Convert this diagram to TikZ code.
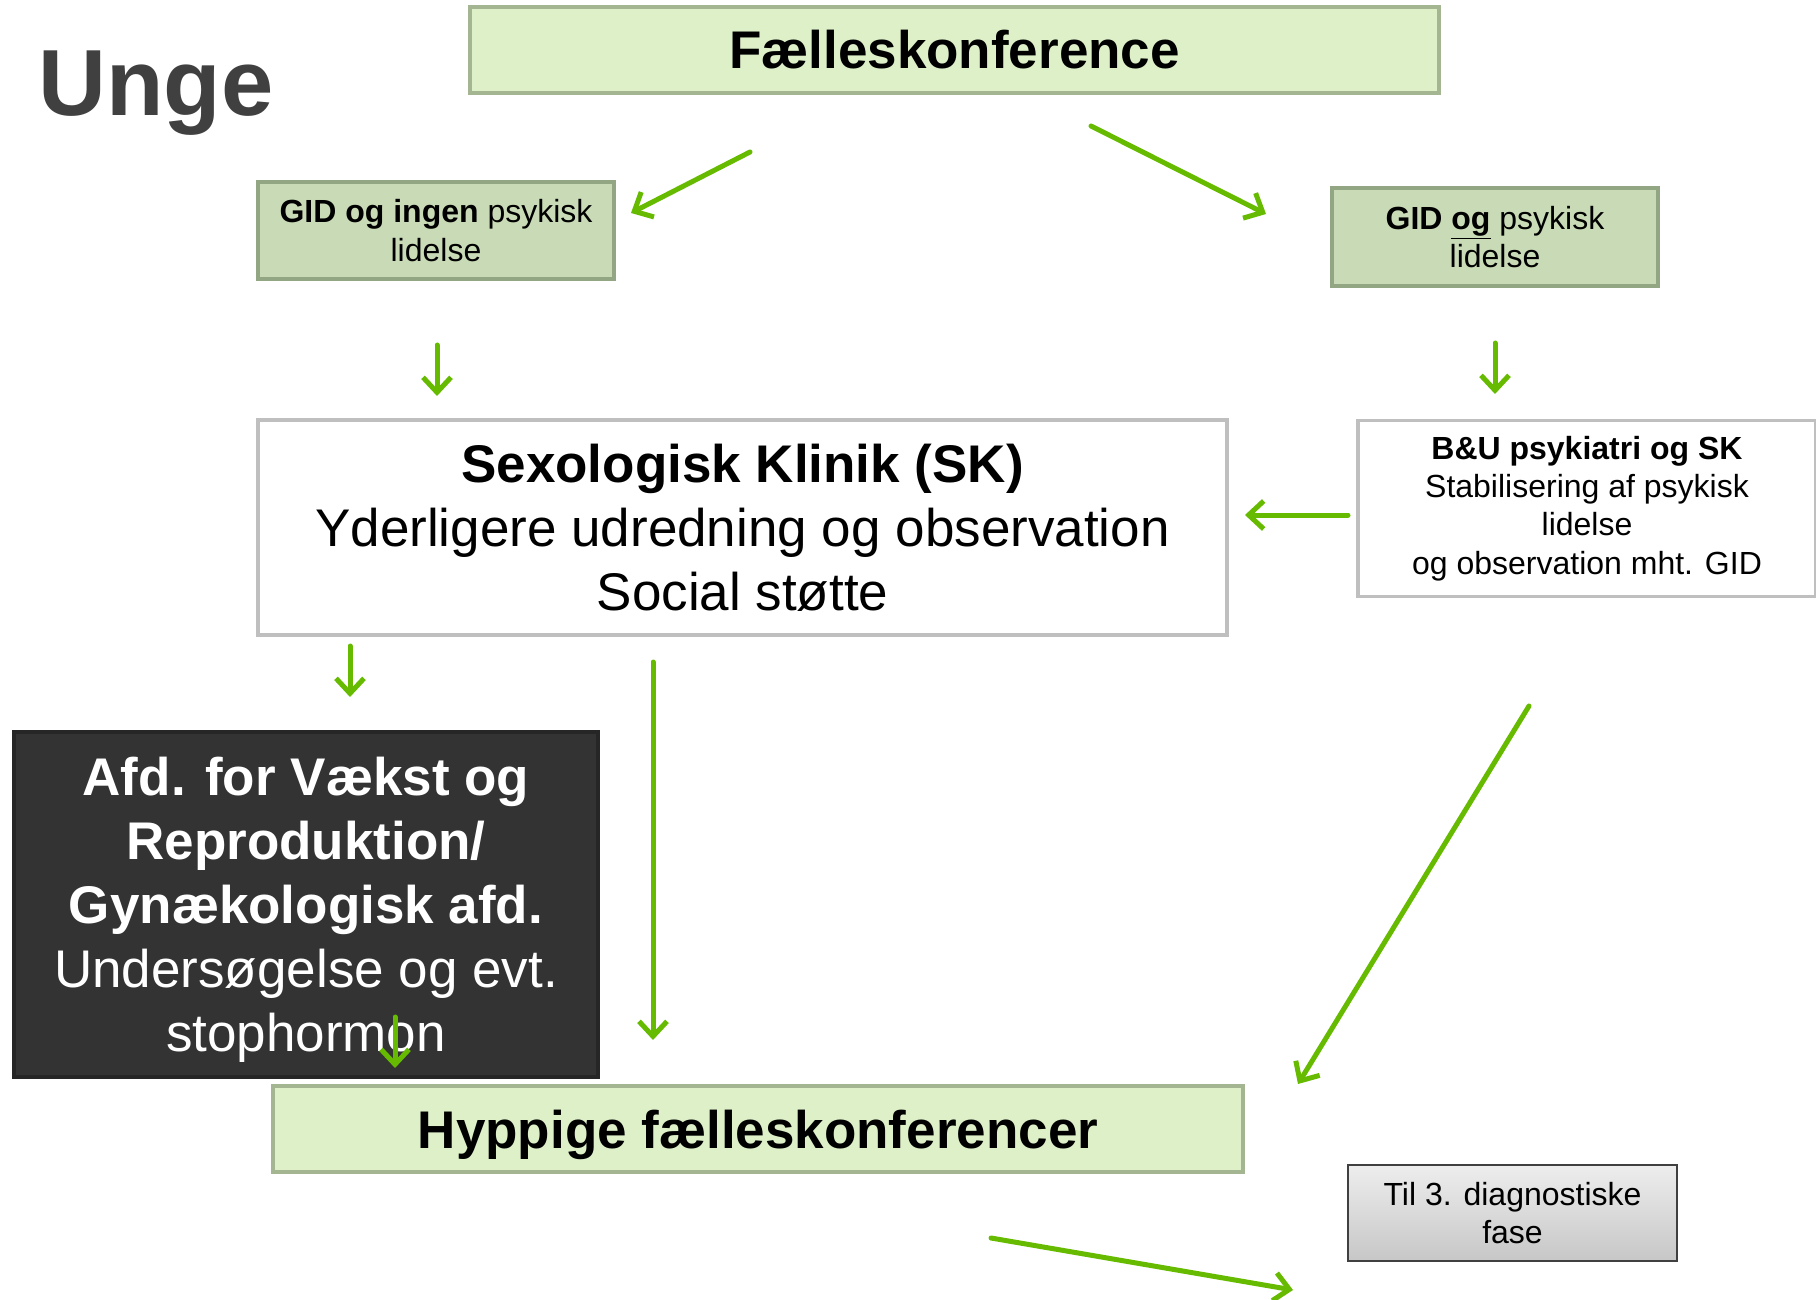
\documentclass[tikz,border=0pt]{standalone}
\usepackage{fontspec}
\setmainfont{Liberation Sans}
\usetikzlibrary{arrows.meta}

\definecolor{lightgreen}{HTML}{DDF0C8}
\definecolor{lightline}{HTML}{A4B592}
\definecolor{midgreen}{HTML}{C9DBB6}
\definecolor{midline}{HTML}{93A684}
\definecolor{arrowgreen}{HTML}{66BB00}
\definecolor{darkbox}{HTML}{333333}
\definecolor{titlegray}{HTML}{404040}

\newcommand{\bigtxt}{\fontsize{26.5}{32}\selectfont}
\newcommand{\smalltxt}{\fontsize{16}{19.2}\selectfont}

\begin{document}
\begin{tikzpicture}[x=0.5pt,y=-0.5pt,
	every node/.style={inner sep=0pt, align=center},
	confbox/.style={draw=lightline, fill=lightgreen, line width=2pt, font=\bigtxt\bfseries},
	gidbox/.style={draw=midline, fill=midgreen, line width=2pt, font=\smalltxt},
	whitebox/.style={draw=black!25, fill=white, line width=1.6pt},
	grarrow/.style={draw=arrowgreen, line width=2.5pt, line cap=round,
		-{Straight Barb[length=7.5pt,width=14pt,line width=2.5pt]}}]

	\useasboundingbox (0,0) rectangle (1816,1300);

	\node[text=titlegray, font=\fontsize{47}{56}\selectfont\bfseries, anchor=west] (unge) at (38,93) {Unge};

	\node[confbox, minimum width=484.5pt, minimum height=43pt] (faelles) at (954.5,50) {Fælleskonference};

	\node[gidbox, minimum width=178pt, minimum height=48.5pt] (gidingen) at (436,230.5)
		{\textbf{GID og ingen} psykisk\\lidelse};
	\node[gidbox, minimum width=163pt, minimum height=49pt] (gidog) at (1495,237)
		{\textbf{GID \underline{og}} psykisk\\lidelse};

	\node[whitebox, font=\bigtxt, minimum width=484.5pt, minimum height=107.5pt] (sk) at (742.5,527.5)
		{\textbf{Sexologisk Klinik (SK)}\\Yderligere udredning og observation\\Social støtte};
	\node[whitebox, font=\smalltxt, minimum width=229pt, minimum height=88pt] (bu) at (1587,508.5)
		{\textbf{B\&U psykiatri og SK}\\Stabilisering af psykisk\\lidelse\\og observation mht. GID};

	\node[draw=black!85, fill=darkbox, text=white, line width=2pt, font=\bigtxt,
		minimum width=292pt, minimum height=172.5pt, text depth=0pt] (vaekst) at (306,904.5)
		{\textbf{Afd. for Vækst og}\\\textbf{Reproduktion/}\\\textbf{Gynækologisk afd.}\\Undersøgelse og evt.\\stophormon};

	\node[confbox, minimum width=485pt, minimum height=43pt, text depth=0pt] (hyppige) at (758,1129) {Hyppige fælleskonferencer};

	\node[draw=black!75, line width=1.2pt, top color=black!7, bottom color=black!22, font=\smalltxt,
		minimum width=164.5pt, minimum height=48pt] (til3) at (1512.5,1213) {Til 3. diagnostiske\\fase};

	% arrows
	\coordinate (a1) at (750,152);  \coordinate (b1) at (631,213);
	\coordinate (a2) at (1091,126); \coordinate (b2) at (1266,214);
	\coordinate (a3) at (437,345);  \coordinate (b3) at (437,396);
	\coordinate (a4) at (1495,343); \coordinate (b4) at (1495,394);
	\coordinate (a5) at (1348,515); \coordinate (b5) at (1245,515);
	\coordinate (a6) at (350,646);  \coordinate (b6) at (350,697);
	\coordinate (a7) at (653,662);  \coordinate (b7) at (653,1040);
	\coordinate (a8) at (395,1017); \coordinate (b8) at (395,1068);
	\coordinate (a9) at (1529,706); \coordinate (b9) at (1298,1084);
	\coordinate (a10) at (991,1238); \coordinate (b10) at (1293,1290);

	\foreach \i in {1,...,10}
		\draw[grarrow] (a\i) -- (b\i);

\end{tikzpicture}
\end{document}
